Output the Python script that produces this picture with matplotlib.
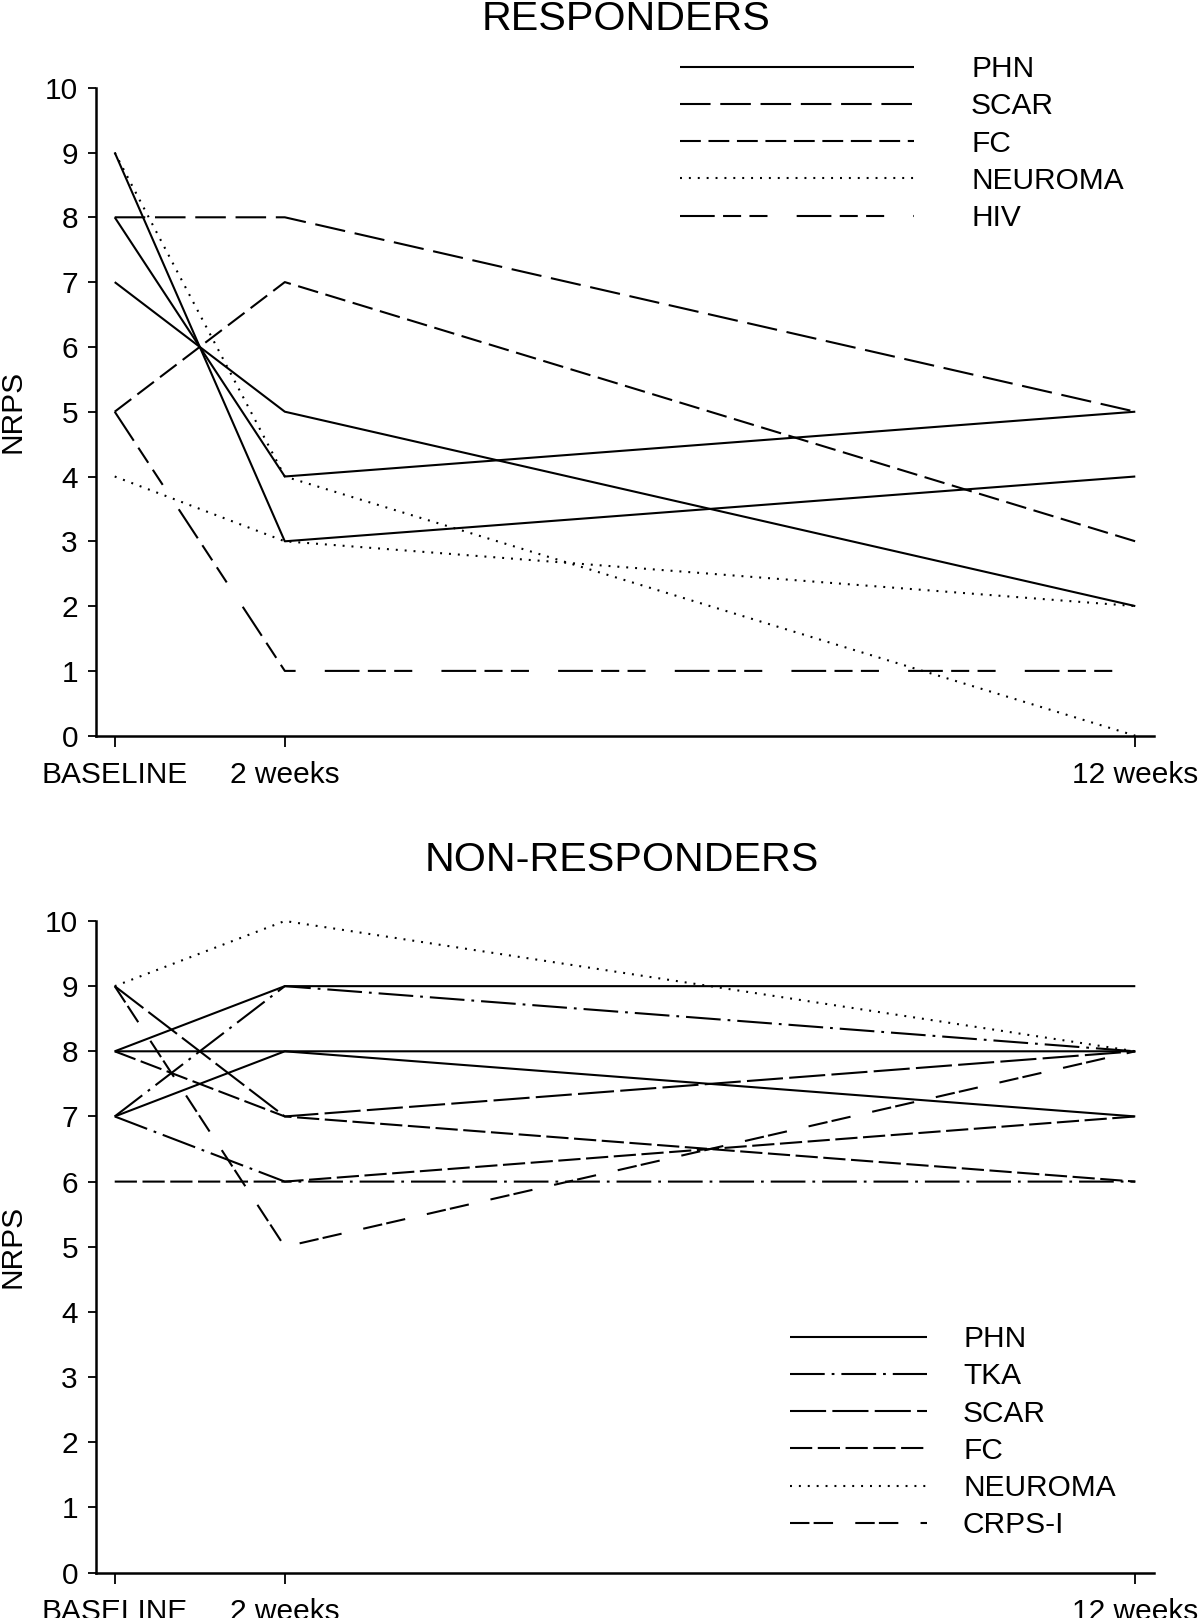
import matplotlib
matplotlib.use("Agg")
import matplotlib.pyplot as plt

plt.rcParams['font.family'] = ['Liberation Sans', 'DejaVu Sans']
plt.rcParams['lines.scale_dashes'] = False

# ---------------- data ----------------
weeks = [0, 2, 12]
tick_labels = ['BASELINE', '2 weeks', '12 weeks']
y_ticks = list(range(0, 11))

# Responders
resp_phn = [[9, 3, 4], [8, 4, 5], [7, 5, 2]]
resp_scar = [[8, 8, 5]]
resp_fc = [[5, 7, 3]]
resp_neuroma = [[9, 4, 0], [4, 3, 2]]
resp_hiv = [[5, 1, 1]]

# Non-responders
nonresp_phn = [[8, 9, 9], [8, 8, 7], [7, 8, 8]]
nonresp_tka = [[7, 9, 8], [7, 6, 6]]
nonresp_scar = [[9, 7, 8]]
nonresp_fc = [[8, 7, 6], [6, 6, 7]]
nonresp_neuroma = [[9, 10, 8]]
nonresp_crps = [[9, 5, 8]]

# ---------------- styles ----------------
LW = 1.5
solid = None
top_styles = {
    'PHN': solid,
    'SCAR': (0, (22, 7)),
    'FC': (0, (15, 5.5)),
    'NEUROMA': (0, (1.4, 5)),
    'HIV': (0, (25, 6, 13, 6, 13, 21)),
}
bot_styles = {
    'PHN': solid,
    'TKA': (0, (25, 5, 2, 5)),
    'SCAR': (0, (26, 4.5)),
    'FC': (0, (16, 4)),
    'NEUROMA': (0, (1.4, 5)),
    'CRPS-I': (0, (14, 3, 14, 16)),
}

top_groups = [('PHN', resp_phn), ('SCAR', resp_scar), ('FC', resp_fc),
              ('NEUROMA', resp_neuroma), ('HIV', resp_hiv)]
bot_groups = [('PHN', nonresp_phn), ('TKA', nonresp_tka), ('SCAR', nonresp_scar),
              ('FC', nonresp_fc), ('NEUROMA', nonresp_neuroma), ('CRPS-I', nonresp_crps)]

W, H = 1200, 1618
fig = plt.figure(figsize=(W / 100, H / 100), dpi=100)

def fx(px):
    return px / W

def fy(py):
    return 1 - py / H

ax_left, ax_right = 96, 1154
ax1 = fig.add_axes([fx(ax_left), fy(735.7), fx(ax_right - ax_left), (735.7 - 87.7) / H])
ax2 = fig.add_axes([fx(ax_left), fy(1572.5), fx(ax_right - ax_left), (1572.5 - 921) / H])

FS = 21.5

def draw(ax, groups, styles, leg_anchor, handlelength, handletextpad):
    handles = []
    for name, series in groups:
        ls = styles[name]
        first = None
        for s in series:
            kw = {}
            if ls is None:
                kw['linestyle'] = '-'
            else:
                kw['linestyle'] = ls
            ln, = ax.plot(weeks, s, color='black', lw=LW, clip_on=False,
                          solid_capstyle='butt', dash_capstyle='butt', **kw)
            if first is None:
                first = ln
        handles.append((first, name))
    ax.set_xlim(-0.22, 12.22)
    ax.set_ylim(0, 10)
    ax.spines['top'].set_visible(False)
    ax.spines['right'].set_visible(False)
    ax.spines['left'].set_bounds(0, 10)
    ax.spines['left'].set_linewidth(1.8)
    ax.spines['bottom'].set_linewidth(1.8)
    ax.set_xticks(weeks)
    ax.set_xticklabels(tick_labels)
    ax.set_yticks(y_ticks)
    ax.tick_params(axis='y', length=6, width=1.3, pad=7, labelsize=FS)
    ax.tick_params(axis='x', length=8, width=1.3, pad=10, labelsize=FS)
    ax.set_ylabel('NRPS', fontsize=FS)
    ax.yaxis.set_label_coords((27 - ax_left) / (ax_right - ax_left), 0.5)
    ax.legend([h for h, _ in handles], [n for _, n in handles],
              loc='upper left', bbox_to_anchor=leg_anchor,
              bbox_transform=fig.transFigure, frameon=False,
              fontsize=FS, handlelength=handlelength,
              handletextpad=handletextpad, labelspacing=0.31,
              borderpad=0, borderaxespad=0)

em = FS * 100 / 72
draw(ax1, top_groups, top_styles, (fx(680), fy(55)), 234 / em, 57 / em)
draw(ax2, bot_groups, bot_styles, (fx(790), fy(1325)), 137 / em, 36 / em)

fig.text(fx(626), fy(19), 'RESPONDERS', ha='center', va='center', fontsize=29.7)
fig.text(fx(622), fy(860), 'NON-RESPONDERS', ha='center', va='center', fontsize=29.7)

fig.savefig('out.png', dpi=100)
